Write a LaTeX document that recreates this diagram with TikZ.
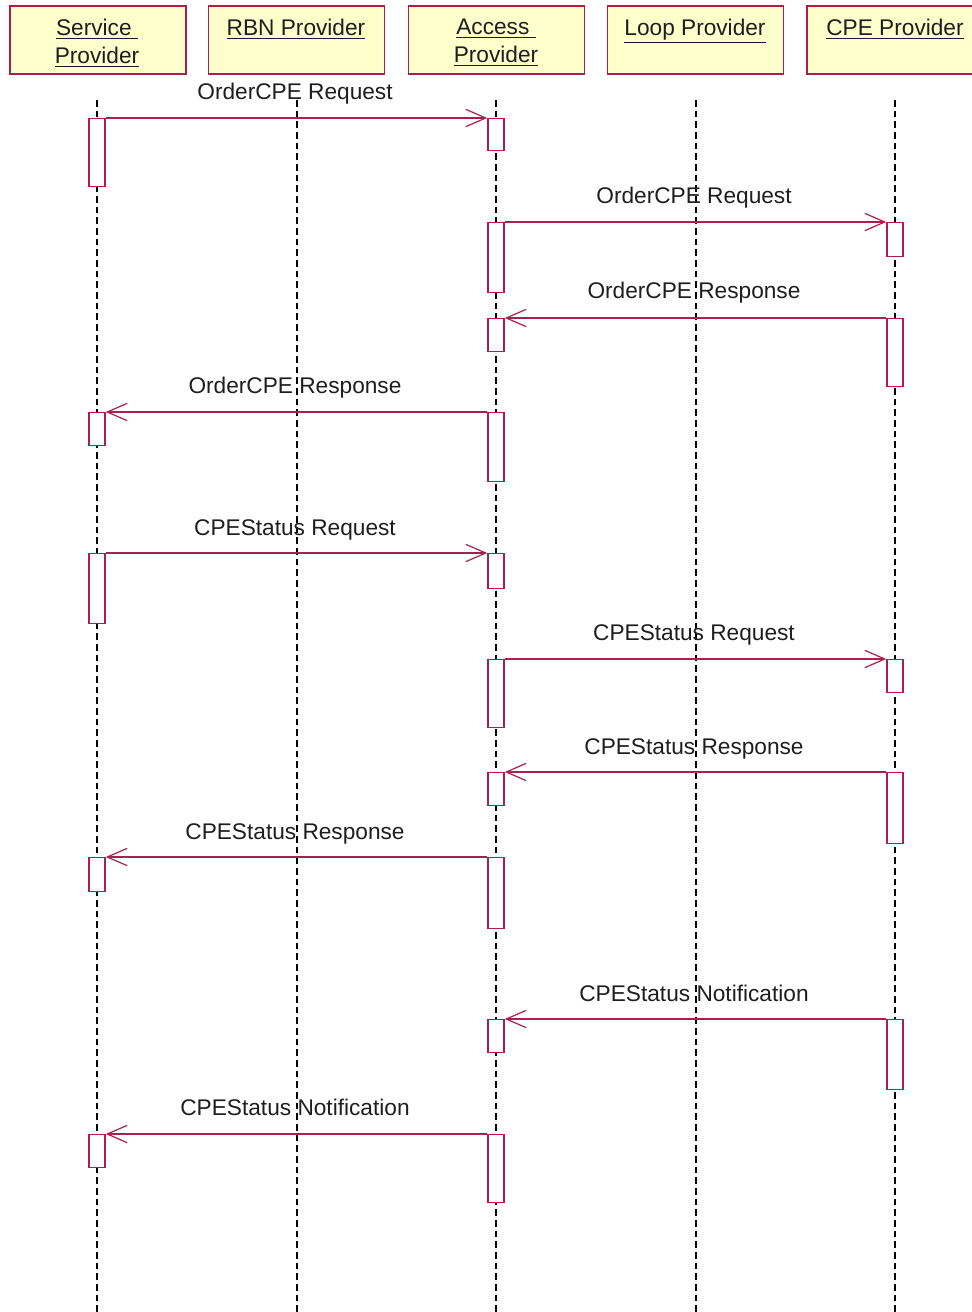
\documentclass[tikz,border=0pt]{standalone}
\usepackage{fontspec}
\setmainfont{Liberation Sans}
\usetikzlibrary{arrows.meta}
\definecolor{crim}{RGB}{172,30,78}
\definecolor{boxfill}{RGB}{255,255,204}
\definecolor{txt}{RGB}{30,30,30}
\tikzset{
  hdr/.style={draw=crim, fill=boxfill, line width=1.3pt, minimum width=132pt, minimum height=51pt, inner sep=0pt},
  hdrtext/.style={text=txt, font=\fontsize{17}{21}\selectfont, align=center, anchor=north, inner sep=0pt},
  life/.style={draw=black, line width=0.9pt, dash pattern=on 5pt off 3pt},
  act/.style={draw=crim, fill=white, line width=1.1pt, minimum width=12pt, minimum height={#1*0.75pt}, inner sep=0pt, anchor=north},
  msg/.style={draw=crim, line width=1.1pt, -{Straight Barb[length=15pt, width=13pt, line width=0.9pt]}},
  lbl/.style={text=txt, font=\fontsize{17}{21}\selectfont, anchor=base, inner sep=0pt}
}
\begin{document}
\begin{tikzpicture}[x=0.75pt, y=-0.75pt]
\useasboundingbox (0,0) rectangle (971,1312);
% header boxes
\node[hdr] (sp) at (98,40) {};
\node[hdr] (rbn) at (296.5,40) {};
\node[hdr] (ap) at (496.5,40) {};
\node[hdr] (lp) at (695.5,40) {};
\node[hdr] (cpe) at (895,40) {};
\node[hdrtext] (spt) at (97,19) {\underline{Service\ }\\\underline{Provider}};
\node[hdrtext] (rbnt) at (296,19) {\underline{RBN Provider}};
\node[hdrtext] (apt) at (496,19) {\underline{Access\ }\\\underline{Provider}};
\node[hdrtext] (lpt) at (695,19) {\underline{Loop Provider}};
\node[hdrtext] (cpet) at (895,19) {\underline{CPE Provider}};
% lifelines
\coordinate (l1t) at (97,100);  \coordinate (l1b) at (97,1312);
\coordinate (l2t) at (297,100); \coordinate (l2b) at (297,1312);
\coordinate (l3t) at (496,100); \coordinate (l3b) at (496,1312);
\coordinate (l4t) at (696,100); \coordinate (l4b) at (696,1312);
\coordinate (l5t) at (895,100); \coordinate (l5b) at (895,1312);
\draw[life] (l1t) -- (l1b);
\draw[life] (l2t) -- (l2b);
\draw[life] (l3t) -- (l3b);
\draw[life] (l4t) -- (l4b);
\draw[life] (l5t) -- (l5b);
% activations
\node[act=68] (s1) at (97,118) {};
\node[act=32] (a1) at (496,118) {};
\node[act=70] (a2) at (496,222) {};
\node[act=34] (c2) at (895,222) {};
\node[act=68] (c3) at (895,318) {};
\node[act=33] (a3) at (496,318) {};
\node[act=69] (a4) at (496,412) {};
\node[act=33] (s4) at (97,412) {};
\node[act=70] (s5) at (97,553) {};
\node[act=35] (a5) at (496,553) {};
\node[act=68] (a6) at (496,659) {};
\node[act=33] (c6) at (895,659) {};
\node[act=71] (c7) at (895,772) {};
\node[act=33] (a7) at (496,772) {};
\node[act=71] (a8) at (496,857) {};
\node[act=34] (s8) at (97,857) {};
\node[act=70] (c9) at (895,1019) {};
\node[act=33] (a9) at (496,1019) {};
\node[act=68] (a10) at (496,1134) {};
\node[act=33] (s10) at (97,1134) {};
% messages
\draw[msg] (s1.north east) -- (a1.north west);
\draw[msg] (a2.north east) -- (c2.north west);
\draw[msg] (c3.north west) -- (a3.north east);
\draw[msg] (a4.north west) -- (s4.north east);
\draw[msg] (s5.north east) -- (a5.north west);
\draw[msg] (a6.north east) -- (c6.north west);
\draw[msg] (c7.north west) -- (a7.north east);
\draw[msg] (a8.north west) -- (s8.north east);
\draw[msg] (c9.north west) -- (a9.north east);
\draw[msg] (a10.north west) -- (s10.north east);
% labels
\node[lbl] (m1) at (295,100) {OrderCPE Request};
\node[lbl] (m2) at (694,204) {OrderCPE Request};
\node[lbl] (m3) at (694,299) {OrderCPE Response};
\node[lbl] (m4) at (295,393) {OrderCPE Response};
\node[lbl] (m5) at (295,535) {CPEStatus Request};
\node[lbl] (m6) at (694,640) {CPEStatus Request};
\node[lbl] (m7) at (694,754) {CPEStatus Response};
\node[lbl] (m8) at (295,839) {CPEStatus Response};
\node[lbl] (m9) at (694,1001) {CPEStatus Notification};
\node[lbl] (m10) at (295,1115) {CPEStatus Notification};
\end{tikzpicture}
\end{document}
